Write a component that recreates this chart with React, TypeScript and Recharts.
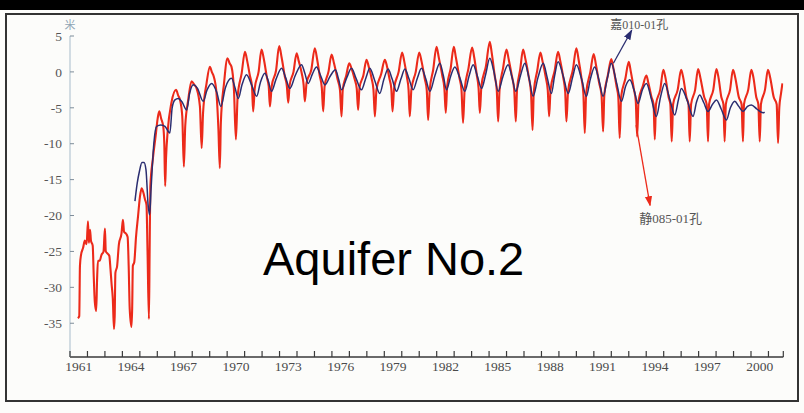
import { LineChart, Line, XAxis, YAxis, ReferenceLine, ReferenceDot } from "recharts";

type Pt = [number, number];

const yTicks = [5, 0, -5, -10, -15, -20, -25, -30, -35];
const yearLabels = [1961, 1964, 1967, 1970, 1973, 1976, 1979, 1982, 1985, 1988, 1991, 1994, 1997, 2000];
const axisEnd = 2001.85;

// 静085-01孔 (red), [year, metres]
const redEarly: Pt[] = [
  [1961.45, -34.3], [1961.53, -34.0], [1961.57, -27], [1961.63, -25.5], [1961.75, -24.5], [1961.85, -23.5],
  [1961.95, -24], [1962.03, -20.8], [1962.08, -23.8], [1962.15, -22], [1962.2, -23.5], [1962.3, -24.2],
  [1962.36, -28.5], [1962.42, -32], [1962.5, -33.3], [1962.55, -29], [1962.6, -26.3], [1962.7, -26.3],
  [1962.8, -25.5], [1962.92, -25], [1963.0, -21.8], [1963.05, -25], [1963.15, -25.3], [1963.25, -25.6],
  [1963.32, -27.5], [1963.38, -29.5], [1963.45, -31.5], [1963.52, -35.8], [1963.56, -34], [1963.6, -28],
  [1963.7, -27], [1963.8, -24], [1963.95, -22.5], [1964.03, -20.6], [1964.1, -22.3], [1964.2, -22.5],
  [1964.3, -23], [1964.36, -27], [1964.42, -33], [1964.52, -35.5], [1964.56, -33], [1964.6, -27],
  [1964.68, -26.5], [1964.78, -23], [1964.9, -20], [1965.0, -17.5], [1965.1, -16.2], [1965.2, -16.8],
  [1965.3, -17.8], [1965.38, -18.5], [1965.44, -25], [1965.52, -34.4], [1965.56, -25], [1965.6, -16],
  [1965.75, -12], [1965.9, -9], [1966.02, -6.5],
];

const red1966to1980: Pt[] = [
  [1966.11, -5.5], [1966.22, -6.5], [1966.34, -7.6], [1966.4, -10], [1966.45, -15.9], [1966.5, -12], [1966.6, -8.1], [1966.8, -4.4],
  [1967.07, -2.5], [1967.2, -3.3], [1967.3, -3.9], [1967.43, -6.2], [1967.52, -13.2], [1967.6, -7.5], [1967.77, -3.9],
  [1967.96, -1.3], [1968.12, -1.8], [1968.25, -2.3], [1968.44, -4.8], [1968.54, -10.6], [1968.62, -5.7], [1968.82, -1.6],
  [1969.01, 0.7], [1969.12, 0.0], [1969.24, -0.7], [1969.39, -3], [1969.5, -8], [1969.58, -13.4], [1969.64, -7], [1969.82, -1.6],
  [1970.02, 1.9], [1970.14, 1.2], [1970.25, 0.7], [1970.39, -2.5], [1970.5, -9.4], [1970.6, -3.4], [1970.83, -0.2],
  [1971.02, 2.8], [1971.15, 1.5], [1971.3, -0.5], [1971.42, -2], [1971.49, -5.5], [1971.58, -2.3], [1971.8, 0],
  [1971.97, 3.1], [1972.1, 1.8], [1972.28, -0.8], [1972.38, -2], [1972.45, -4.8], [1972.55, -2], [1972.8, 0.2],
  [1972.98, 3.6], [1973.12, 2], [1973.3, -0.6], [1973.42, -2], [1973.5, -4.3], [1973.58, -1.8], [1973.8, 0],
  [1973.98, 2.6], [1974.1, 1.5], [1974.28, -0.3], [1974.38, -1.8], [1974.45, -4.1], [1974.55, -1.5], [1974.82, 0.3],
  [1975.02, 3.3], [1975.15, 1.8], [1975.3, -0.5], [1975.42, -2.2], [1975.5, -5.5], [1975.58, -2], [1975.8, 0],
  [1975.98, 2.4], [1976.12, 1.2], [1976.32, -1], [1976.46, -2.5], [1976.55, -6.2], [1976.62, -2.5], [1976.82, -0.5],
  [1976.99, 1.2], [1977.12, 0.5], [1977.3, -1], [1977.42, -2.3], [1977.5, -5.3], [1977.58, -2.2], [1977.8, -0.5],
  [1977.98, 1.7], [1978.1, 0.8], [1978.28, -1], [1978.38, -2.5], [1978.46, -6.2], [1978.55, -2.5], [1978.82, -0.3],
  [1979.03, 1.7], [1979.15, 0.8], [1979.3, -1], [1979.4, -2.3], [1979.47, -5.5], [1979.56, -2.3], [1979.82, 0],
  [1980.02, 2.7], [1980.14, 1.5], [1980.3, -0.8], [1980.39, -2.5], [1980.46, -6.2], [1980.55, -2.5], [1980.8, 0],
];

const red1981to1993: Pt[] = [
  [1981.0, 2.7], [1981.13, 1.5], [1981.32, -1], [1981.43, -2.5], [1981.51, -6.7], [1981.6, -2.5], [1981.8, 0.3],
  [1981.99, 3.5], [1982.12, 2], [1982.32, -0.5], [1982.44, -2.3], [1982.52, -5.7], [1982.6, -2], [1982.8, 0.5],
  [1982.98, 3.5], [1983.1, 2], [1983.3, -0.8], [1983.42, -2.5], [1983.51, -7.1], [1983.6, -2.5], [1983.82, 0.5],
  [1984.03, 3.4], [1984.15, 2], [1984.3, -0.5], [1984.4, -2.3], [1984.47, -5.7], [1984.56, -2], [1984.82, 0.8],
  [1985.04, 4.2], [1985.16, 2.5], [1985.32, -0.5], [1985.44, -2.5], [1985.52, -6.9], [1985.6, -2.5], [1985.8, 0.5],
  [1986.0, 3.1], [1986.12, 1.8], [1986.3, -0.5], [1986.44, -2.5], [1986.53, -6.9], [1986.6, -2.5], [1986.78, 0.3],
  [1986.95, 3.1], [1987.08, 1.8], [1987.28, -0.8], [1987.4, -2.8], [1987.49, -8.1], [1987.56, -2.8], [1987.76, 0.2],
  [1987.94, 2.7], [1988.06, 1.5], [1988.25, -0.8], [1988.36, -2.5], [1988.44, -6.2], [1988.52, -2.5], [1988.76, 0.2],
  [1988.95, 2.8], [1989.08, 1.5], [1989.25, -0.8], [1989.36, -2.8], [1989.43, -6.9], [1989.52, -2.8], [1989.8, 0.3],
  [1990.0, 3.3], [1990.12, 1.8], [1990.3, -1], [1990.4, -3], [1990.48, -8.5], [1990.56, -3], [1990.8, 0],
  [1990.99, 2.5], [1991.12, 1], [1991.3, -1.5], [1991.44, -3.2], [1991.53, -8.3], [1991.6, -3.2], [1991.8, -0.5],
  [1992.0, 1.8], [1992.12, 0.5], [1992.3, -2], [1992.4, -3.5], [1992.48, -9.2], [1992.56, -3.5], [1992.8, -1],
  [1993.0, 1.4], [1993.12, 0], [1993.3, -2.5], [1993.4, -4], [1993.48, -9], [1993.56, -4], [1993.8, -2],
];

const red1994to2001: Pt[] = [
  [1994.01, -0.5], [1994.12, -1.5], [1994.3, -3.5], [1994.42, -4.5], [1994.49, -9.4], [1994.56, -4.5], [1994.8, -2.5],
  [1994.98, 0.3], [1995.1, -0.8], [1995.28, -3.5], [1995.38, -4.5], [1995.46, -9.7], [1995.54, -4.5], [1995.8, -2.5],
  [1996.0, 0.3], [1996.12, -0.8], [1996.3, -3.5], [1996.42, -4.5], [1996.49, -9.7], [1996.57, -4.5], [1996.8, -2.5],
  [1996.97, 0.4], [1997.1, -0.8], [1997.32, -3.5], [1997.46, -4.5], [1997.54, -9.7], [1997.6, -4.5], [1997.84, -2.5],
  [1998.02, 0.4], [1998.14, -0.8], [1998.3, -3.5], [1998.42, -4.5], [1998.49, -9.7], [1998.56, -4.5], [1998.8, -2.5],
  [1998.97, 0.3], [1999.1, -0.8], [1999.3, -3.5], [1999.46, -4.5], [1999.54, -9.7], [1999.6, -4.5], [1999.84, -2.5],
  [2000.02, 0.3], [2000.14, -0.8], [2000.3, -3.5], [2000.42, -4.5], [2000.5, -9.7], [2000.57, -4.5], [2000.8, -2.5],
  [2000.97, 0.3], [2001.1, -0.8], [2001.3, -3.5], [2001.47, -4.5], [2001.55, -9.9], [2001.62, -5], [2001.72, -3], [2001.8, -1.6],
];

// 嘉010-01孔 (dark blue)
const blue1964to1980: Pt[] = [
  [1964.72, -18], [1964.85, -15.5], [1964.98, -13.8], [1965.12, -12.6], [1965.24, -12.6], [1965.35, -13.6],
  [1965.48, -18.7], [1965.56, -19.9], [1965.65, -16], [1965.8, -10], [1965.96, -7.6], [1966.2, -7.4],
  [1966.44, -7.6], [1966.72, -8.5], [1966.85, -5], [1967.01, -3.9], [1967.2, -3.7], [1967.42, -4.2],
  [1967.68, -5.3], [1967.85, -3], [1968.06, -1.8], [1968.3, -2.3], [1968.63, -4.1], [1968.85, -2.5],
  [1969.11, -1.6], [1969.4, -2.8], [1969.64, -4.8], [1969.9, -2.2], [1970.25, -0.9], [1970.45, -2.2],
  [1970.64, -3.7], [1970.85, -1.8], [1971.11, -0.4], [1971.4, -1.8], [1971.69, -3.4], [1971.9, -1.5],
  [1972.16, -0.2], [1972.35, -1.2], [1972.54, -2.7], [1972.8, -1], [1973.12, 0.5], [1973.35, -0.8],
  [1973.59, -2.3], [1973.9, -0.5], [1974.26, 1.0], [1974.45, -0.2], [1974.64, -1.6], [1974.88, -0.3],
  [1975.12, 0.7], [1975.35, -0.5], [1975.6, -1.8], [1975.9, -0.6], [1976.2, 0.3], [1976.38, -1],
  [1976.55, -2.5], [1976.85, -0.8], [1977.12, 0.5], [1977.4, -1], [1977.69, -2.5], [1977.95, -0.8],
  [1978.17, 0.5], [1978.45, -1.2], [1978.74, -3], [1978.98, -1], [1979.22, 0.4], [1979.45, -1],
  [1979.7, -2.7], [1979.95, -1], [1980.18, 0.4], [1980.42, -1], [1980.65, -2.5], [1980.9, -0.8],
];

const blue1981to2000: Pt[] = [
  [1981.13, 0.5], [1981.38, -1], [1981.61, -2.7], [1981.9, -0.5], [1982.18, 1.2], [1982.38, -0.5],
  [1982.56, -2.5], [1982.8, -0.6], [1983.04, 0.7], [1983.32, -0.8], [1983.61, -2.7], [1983.85, -0.6],
  [1984.09, 1.0], [1984.32, -0.5], [1984.57, -2.3], [1984.8, -0.4], [1985.04, 1.9], [1985.28, 0],
  [1985.52, -2.7], [1985.8, -0.6], [1986.09, 1.0], [1986.3, -0.6], [1986.53, -2.7], [1986.8, -0.5],
  [1987.05, 1.2], [1987.28, -0.8], [1987.52, -3.4], [1987.8, -0.8], [1988.1, 1.2], [1988.33, -0.8],
  [1988.57, -3], [1988.75, -0.6], [1988.95, 1.4], [1989.25, -0.6], [1989.53, -3], [1989.78, -0.8],
  [1990.0, 1.0], [1990.3, -1], [1990.57, -3.4], [1990.8, -1], [1991.05, 0.7], [1991.3, -1.2],
  [1991.53, -3.4], [1991.78, -0.8], [1992.0, 1.2], [1992.3, -1.5], [1992.58, -4.1], [1992.82, -2],
  [1993.06, -1.1], [1993.3, -2.5], [1993.53, -4.4], [1993.78, -2.5], [1994.01, -1.6], [1994.3, -3.8],
  [1994.58, -6.2], [1994.82, -3.5], [1995.06, -1.6], [1995.35, -3.8], [1995.63, -6], [1995.85, -3.8],
  [1996.01, -2.3], [1996.35, -4], [1996.68, -6.2], [1996.88, -4.2], [1997.06, -3.2], [1997.3, -4.3],
  [1997.54, -5.5], [1997.8, -4.5], [1998.02, -3.9], [1998.3, -5.2], [1998.59, -6.7], [1998.82, -5],
  [1999.07, -4.1], [1999.3, -4.8], [1999.54, -5.5], [1999.8, -4.8], [2000.02, -4.6], [2000.35, -5.2],
  [2000.69, -5.7], [2000.78, -5.6],
];

const toRows = (pts: Pt[]) => pts.map(([t, v]) => ({ t, v }));
const redData = toRows([...redEarly, ...red1966to1980, ...red1981to1993, ...red1994to2001]);
const blueData = toRows([...blue1964to1980, ...blue1981to2000]);

const yearTicks = Array.from({ length: 41 }, (_, i) => 1961 + i);
const xTicks = [...yearTicks, axisEnd, ...yearLabels.map((y) => y + 0.5)].sort((a, b) => a - b);

const RED = "#ec2a1a";
const BLUE = "#2a2d70";
const SERIF = "'Liberation Serif', 'Times New Roman', serif";

function XTick({ x, y, payload }: any) {
  const v = payload.value as number;
  if (!Number.isInteger(v) && v !== axisEnd) {
    return (
      <text x={x} y={y + 14} textAnchor="middle" fontSize={13.5} fontFamily={SERIF} fill="#4a4a4a">
        {Math.floor(v)}
      </text>
    );
  }
  return <line x1={x} x2={x} y1={y} y2={y - 6} stroke="#3a3a3a" strokeWidth={1.2} />;
}

function YTick({ x, y, payload }: any) {
  return (
    <g>
      <line x1={x} x2={x + 4} y1={y} y2={y} stroke="#7d8c99" strokeWidth={1} />
      <text x={x - 8} y={y} dy="0.35em" textAnchor="end" fontSize={13.5} fontFamily={SERIF} fill="#555">
        {payload.value}
      </text>
    </g>
  );
}

const note = (text: string, size: number, color: string) => ({ viewBox }: any) => (
  <text
    x={viewBox.x + viewBox.width / 2}
    y={viewBox.y + viewBox.height / 2}
    dy="0.35em"
    textAnchor="middle"
    fontSize={size}
    fontFamily={`${SERIF}, 'Noto Sans CJK SC'`}
    fill={color}
  >
    {text}
  </text>
);

export default function App() {
  return (
    <div style={{ position: "absolute", left: 0, top: 0, width: 804, height: 413, background: "#fcfcfa", overflow: "hidden" }}>
      <div style={{ position: "absolute", left: 0, top: 0, width: 804, height: 10, background: "#000" }} />
      <div
        style={{
          position: "absolute",
          left: 5,
          top: 13,
          width: 794,
          height: 389,
          border: "2px solid #333",
          boxSizing: "border-box",
        }}
      />
      <div style={{ position: "absolute", left: 0, top: 0 }}>
        <LineChart width={804} height={413} margin={{ top: 36, right: 20.7, bottom: 26, left: 30 }}>
          <defs>
            <marker id="arrowRed" viewBox="0 0 10 10" refX="9" refY="5" markerWidth="8" markerHeight="8" orient="auto">
              <path d="M0,1.5 L10,5 L0,8.5 z" fill={RED} />
            </marker>
            <marker id="arrowBlue" viewBox="0 0 10 10" refX="9" refY="5" markerWidth="8" markerHeight="8" orient="auto">
              <path d="M0,1.5 L10,5 L0,8.5 z" fill={BLUE} />
            </marker>
          </defs>
          <XAxis
            dataKey="t"
            type="number"
            domain={[1961, axisEnd]}
            ticks={xTicks}
            interval={0}
            tick={<XTick />}
            tickSize={0}
            tickMargin={0}
            tickLine={false}
            axisLine={{ stroke: "#3a3a3a", strokeWidth: 1.3 }}
            height={30}
            allowDataOverflow
          />
          <YAxis
            type="number"
            domain={[-39.7, 5]}
            ticks={yTicks}
            interval={0}
            tick={<YTick />}
            tickSize={0}
            tickMargin={0}
            tickLine={false}
            axisLine={{ stroke: "#a8bccb" }}
            width={40}
            allowDataOverflow
          />
          <Line data={redData} dataKey="v" type="monotone" stroke={RED} strokeWidth={2.1} dot={false} isAnimationActive={false} />
          <Line data={blueData} dataKey="v" type="monotone" stroke={BLUE} strokeWidth={1.5} dot={false} isAnimationActive={false} />
          <ReferenceLine
            segment={[{ x: 1993.42, y: -7.4 }, { x: 1994.22, y: -18.6 }]}
            ifOverflow="visible"
            shape={(p: any) => (
              <line x1={p.x1} y1={p.y1} x2={p.x2} y2={p.y2} stroke={RED} strokeWidth={1.3} markerEnd="url(#arrowRed)" />
            )}
          />
          <ReferenceLine
            segment={[{ x: 1992.12, y: 1.2 }, { x: 1993.17, y: 5.8 }]}
            ifOverflow="visible"
            shape={(p: any) => (
              <line x1={p.x1} y1={p.y1} x2={p.x2} y2={p.y2} stroke={BLUE} strokeWidth={1.3} markerEnd="url(#arrowBlue)" />
            )}
          />
          <ReferenceDot x={1993.6} y={6.5} r={0} ifOverflow="visible" label={note("嘉010-01孔", 12, "#555")} />
          <ReferenceDot x={1995.4} y={-20.4} r={0} ifOverflow="visible" label={note("静085-01孔", 13, "#555")} />
          <ReferenceDot x={1961} y={6.5} r={0} ifOverflow="visible" label={note("米", 11, "#8fa5b5")} />
        </LineChart>
      </div>
      <div
        style={{
          position: "absolute",
          left: 263,
          top: 235,
          fontFamily: "'Liberation Sans', Arial, sans-serif",
          fontSize: 47,
          lineHeight: "47px",
          color: "#000",
          whiteSpace: "nowrap",
        }}
      >
        Aquifer No.2
      </div>
    </div>
  );
}
